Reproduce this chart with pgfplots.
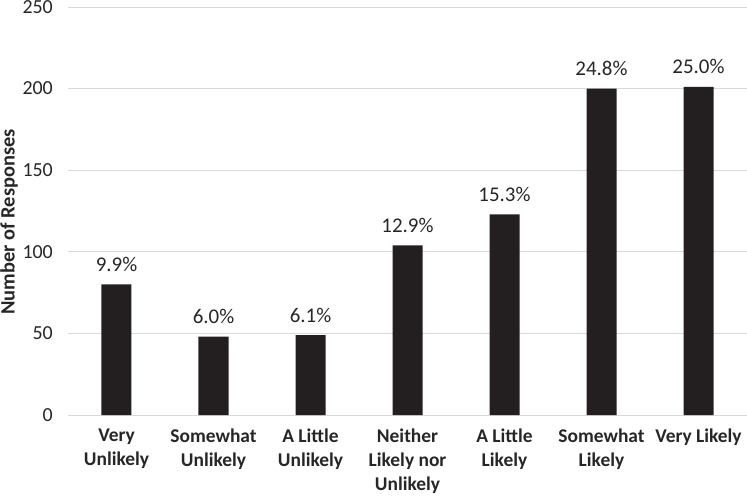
\documentclass[border=0pt]{standalone}
\usepackage{fontspec}
\setmainfont{Carlito}
\usepackage{pgfplots}
\pgfplotsset{compat=1.18}
\definecolor{barc}{HTML}{231F20}
\definecolor{gridc}{HTML}{D9D9D9}
\definecolor{txtc}{HTML}{262626}
\begin{document}
\begin{tikzpicture}
\begin{axis}[
  scale only axis,
  width=679bp, height=408bp,
  xmin=-0.5, xmax=6.5, ymin=0, ymax=250,
  ytick={0,50,100,150,200,250},
  yticklabel={\pgfmathprintnumber{\tick}},
  xtick={0,...,6},
  xticklabels={{Very\\Unlikely},{Somewhat\\Unlikely},{A Little\\Unlikely},{Neither\\Likely nor\\Unlikely},{A Little\\Likely},{Somewhat\\Likely},{Very Likely}},
  axis x line*=bottom,
  axis y line*=left,
  x axis line style={gridc, line width=1pt, -},
  y axis line style={draw=none},
  ymajorgrids,
  grid style={gridc, line width=0.8pt},
  major tick length=0pt,
  tick style={draw=none},
  /pgf/number format/assume math mode=true,
  yticklabel style={font=\fontsize{20}{22}\selectfont, color=txtc, anchor=east, inner sep=0pt, xshift=-15bp},
  xticklabel style={font=\fontsize{19.5}{24}\selectfont\bfseries, align=center, anchor=north, inner sep=0pt, yshift=-14bp, color=txtc},
  ylabel={Number of Responses},
  ylabel style={font=\fontsize{20.5}{22}\selectfont\bfseries, at={([xshift=-68bp]axis description cs:0,0.473)}, anchor=north, inner sep=0pt, color=txtc},
  ybar, bar width=30bp,
  nodes near coords,
  point meta=explicit symbolic,
  every node near coord/.append style={font=\fontsize{21}{22}\selectfont, anchor=base, inner sep=0pt, yshift=13bp, color=txtc},
  clip=false,
]
\addplot[fill=barc, draw=none] coordinates {
  (0,80) [9.9\%]
  (1,48) [6.0\%]
  (2,49) [6.1\%]
  (3,104) [12.9\%]
  (4,123) [15.3\%]
  (5,200) [24.8\%]
  (6,201) [25.0\%]
};
\coordinate (sw) at (rel axis cs:0,0);
\coordinate (ne) at (rel axis cs:1,1);
\end{axis}
\pgfresetboundingbox
\path[use as bounding box] ([shift={(-68bp,-81bp)}]sw) rectangle ([shift={(0bp,7bp)}]ne);
\end{tikzpicture}
\end{document}
